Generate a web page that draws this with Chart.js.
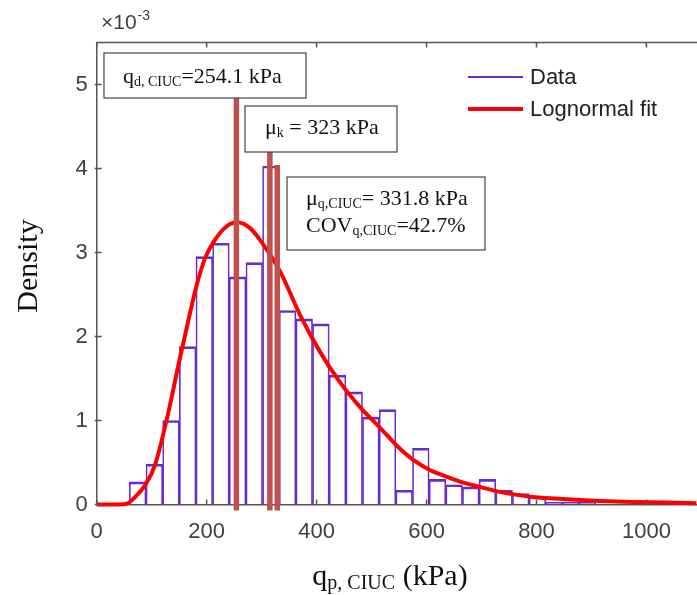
<!DOCTYPE html>
<html>
<head>
<meta charset="utf-8">
<script src="https://cdn.jsdelivr.net/npm/chart.js@4.4.1/dist/chart.umd.min.js"></script>
<style>
html,body{margin:0;padding:0;background:#fff;}
</style>
</head>
<body>
<canvas id="histChart" width="697" height="595"></canvas>
<script>
// histogram bins (centre of each bin, kPa) and density
var binCenters = [74.5, 104.8, 135.1, 165.4, 195.7, 226.0, 256.3, 286.6, 316.9, 347.2, 377.5,
  407.8, 438.1, 468.4, 498.7, 529.0, 559.3, 589.6, 619.9, 650.2, 680.5, 710.8, 741.1,
  771.4, 801.7, 832.0, 862.3, 892.6, 922.9, 953.2, 983.5, 1013.8, 1044.1];
var binDensity = [0.27e-3, 0.48e-3, 1.00e-3, 1.88e-3, 2.95e-3, 3.11e-3, 2.71e-3, 2.88e-3, 4.03e-3,
  2.31e-3, 2.21e-3, 2.15e-3, 1.54e-3, 1.34e-3, 1.04e-3, 1.13e-3, 0.17e-3, 0.67e-3, 0.30e-3,
  0.235e-3, 0.21e-3, 0.30e-3, 0.17e-3, 0.13e-3, 0.10e-3, 0.03e-3, 0.03e-3, 0.03e-3, 0.005e-3,
  0.005e-3, 0, 0, 0.04e-3];

// lognormal fit
var fitX = [0, 40, 55, 67, 90, 106, 127, 150, 165, 181, 197, 213, 236, 255, 279, 297, 334, 370,
  406, 442, 479, 516, 546, 576, 606, 637, 667, 697, 733, 794, 855, 915, 975, 1036, 1091];
var fitY = [0, 0, 0.01e-3, 0.07e-3, 0.25e-3, 0.47e-3, 1.00e-3, 1.70e-3, 2.14e-3, 2.59e-3, 2.93e-3,
  3.13e-3, 3.31e-3, 3.36e-3, 3.29e-3, 3.15e-3, 2.77e-3, 2.255e-3, 1.82e-3, 1.46e-3, 1.16e-3,
  0.91e-3, 0.70e-3, 0.53e-3, 0.41e-3, 0.33e-3, 0.26e-3, 0.21e-3, 0.15e-3, 0.09e-3, 0.063e-3,
  0.043e-3, 0.03e-3, 0.024e-3, 0.016e-3];

// vertical marker lines (kPa)
var markerX = [254.1, 315, 328.5];

var xTicks = [0, 200, 400, 600, 800, 1000];
var yTicks = [0, 1, 2, 3, 4, 5];

var serif = '"Liberation Serif", "Times New Roman", serif';
var sans = '"Liberation Sans", Arial, sans-serif';

function drawRich(ctx, x, y, parts) {
  parts.forEach(function (p) {
    ctx.font = p[1] + 'px ' + serif;
    ctx.fillText(p[0], x, y + (p[2] || 0));
    x += ctx.measureText(p[0]).width;
  });
}

function box(ctx, x, y, w, h) {
  ctx.fillStyle = '#fff';
  ctx.fillRect(x, y, w, h);
  ctx.strokeStyle = '#444';
  ctx.lineWidth = 1.2;
  ctx.strokeRect(x, y, w, h);
}

var overlay = {
  id: 'overlay',
  afterDatasetsDraw: function (chart) {
    var ctx = chart.ctx, xs = chart.scales.x, ys = chart.scales.y, a = chart.chartArea;
    ctx.save();

    // top frame and inward ticks
    ctx.strokeStyle = '#555';
    ctx.lineWidth = 1.5;
    ctx.beginPath();
    ctx.moveTo(a.left, a.top);
    ctx.lineTo(a.right, a.top);
    xs.ticks.forEach(function (t) {
      var px = xs.getPixelForValue(t.value);
      ctx.moveTo(px, a.bottom); ctx.lineTo(px, a.bottom - 5);
      ctx.moveTo(px, a.top); ctx.lineTo(px, a.top + 5);
    });
    ys.ticks.forEach(function (t) {
      var py = ys.getPixelForValue(t.value);
      ctx.moveTo(a.left - 2, py); ctx.lineTo(a.left + 5, py);
    });
    ctx.stroke();

    // marker lines
    var tops = [98, 152, 165];
    ctx.strokeStyle = '#c0504d';
    ctx.lineWidth = 5.5;
    markerX.forEach(function (v, i) {
      var px = xs.getPixelForValue(v);
      ctx.beginPath();
      ctx.moveTo(px, tops[i]);
      ctx.lineTo(px, a.bottom + 6);
      ctx.stroke();
    });

    // annotation boxes
    box(ctx, 104, 53, 202, 45);
    box(ctx, 245, 106, 152, 46);
    box(ctx, 287, 177, 198, 73);
    ctx.fillStyle = '#111';
    ctx.textBaseline = 'alphabetic';
    ctx.textAlign = 'left';
    drawRich(ctx, 123, 83, [['q', 22], ['d, CIUC', 14, 3], ['=254.1 kPa', 22]]);
    drawRich(ctx, 265, 134, [['\u03bc', 22], ['k', 14, 3], [' = 323 kPa', 22]]);
    drawRich(ctx, 306, 205, [['\u03bc', 22], ['q,CIUC', 14, 3], ['= 331.8 kPa', 22]]);
    drawRich(ctx, 306, 232, [['COV', 22], ['q,CIUC', 14, 3], ['=42.7%', 22]]);

    // legend
    var ds = chart.data.datasets;
    var order = [1, 0];
    order.forEach(function (k, i) {
      var y = 77 + i * 32;
      ctx.strokeStyle = ds[k].borderColor;
      ctx.lineWidth = k === 1 ? 2 : 4;
      ctx.beginPath();
      ctx.moveTo(468, y);
      ctx.lineTo(523, y);
      ctx.stroke();
      ctx.fillStyle = '#222';
      ctx.font = '22px ' + sans;
      ctx.textBaseline = 'middle';
      ctx.fillText(ds[k].label, 530, y + 1);
    });

    // exponent label
    ctx.fillStyle = '#404040';
    ctx.textBaseline = 'alphabetic';
    ctx.font = '21px ' + sans;
    ctx.fillText('\u00d710', 101, 29);
    var w = ctx.measureText('\u00d710').width;
    ctx.font = '14px ' + sans;
    ctx.fillText('-3', 101 + w + 1, 20);

    // axis titles
    ctx.fillStyle = '#111';
    var parts = [['q', 30], ['p, CIUC', 20, 4], [' (kPa)', 30]];
    var total = 0;
    parts.forEach(function (p) { ctx.font = p[1] + 'px ' + serif; total += ctx.measureText(p[0]).width; });
    drawRich(ctx, 390 - total / 2, 585, parts);

    ctx.save();
    ctx.translate(37, 266);
    ctx.rotate(-Math.PI / 2);
    ctx.font = '30px ' + serif;
    ctx.textAlign = 'center';
    ctx.fillText('Density', 0, 0);
    ctx.restore();

    ctx.restore();
  }
};

var histPoints = binCenters.map(function (c, i) { return { x: c, y: binDensity[i] }; });
var fitPoints = fitX.map(function (x, i) { return { x: x, y: fitY[i] }; });

new Chart(document.getElementById('histChart'), {
  type: 'bar',
  data: {
    datasets: [{
      type: 'line',
      label: 'Lognormal fit',
      data: fitPoints,
      borderColor: '#ff0000',
      borderWidth: 4,
      pointRadius: 0,
      cubicInterpolationMode: 'monotone',
      clip: false,
      order: 0
    }, {
      type: 'bar',
      label: 'Data',
      data: histPoints,
      borderColor: '#6a2bcc',
      backgroundColor: 'rgba(255,255,255,0)',
      borderWidth: { top: 2, left: 1, right: 1, bottom: 0 },
      borderSkipped: false,
      barPercentage: 1,
      categoryPercentage: 1,
      order: 1
    }]
  },
  options: {
    responsive: false,
    animation: false,
    layout: { padding: { top: 42.5, left: 0, right: 0, bottom: 0 } },
    plugins: { legend: { display: false }, tooltip: { enabled: false } },
    scales: {
      x: {
        type: 'linear',
        offset: false,
        min: 0,
        max: 1092,
        afterFit: function (s) { s.height = 90.5; },
        afterBuildTicks: function (s) { s.ticks = xTicks.map(function (v) { return { value: v }; }); },
        grid: { display: false, drawTicks: false, offset: false },
        border: { display: true, color: '#555', width: 1.5 },
        ticks: {
          padding: 14,
          color: '#404040',
          font: { family: sans, size: 22 },
          maxRotation: 0,
          callback: function (v) { return String(v); }
        }
      },
      y: {
        min: 0,
        max: 5.5e-3,
        afterFit: function (s) { s.width = 96.7; },
        afterBuildTicks: function (s) { s.ticks = yTicks.map(function (v) { return { value: v * 1e-3 }; }); },
        grid: { display: false, drawTicks: false },
        border: { display: true, color: '#555', width: 1.5 },
        ticks: {
          padding: 9,
          color: '#404040',
          font: { family: sans, size: 22 },
          callback: function (v) { return Math.round(v * 1000); }
        }
      }
    }
  },
  plugins: [overlay]
});
</script>
</body>
</html>
